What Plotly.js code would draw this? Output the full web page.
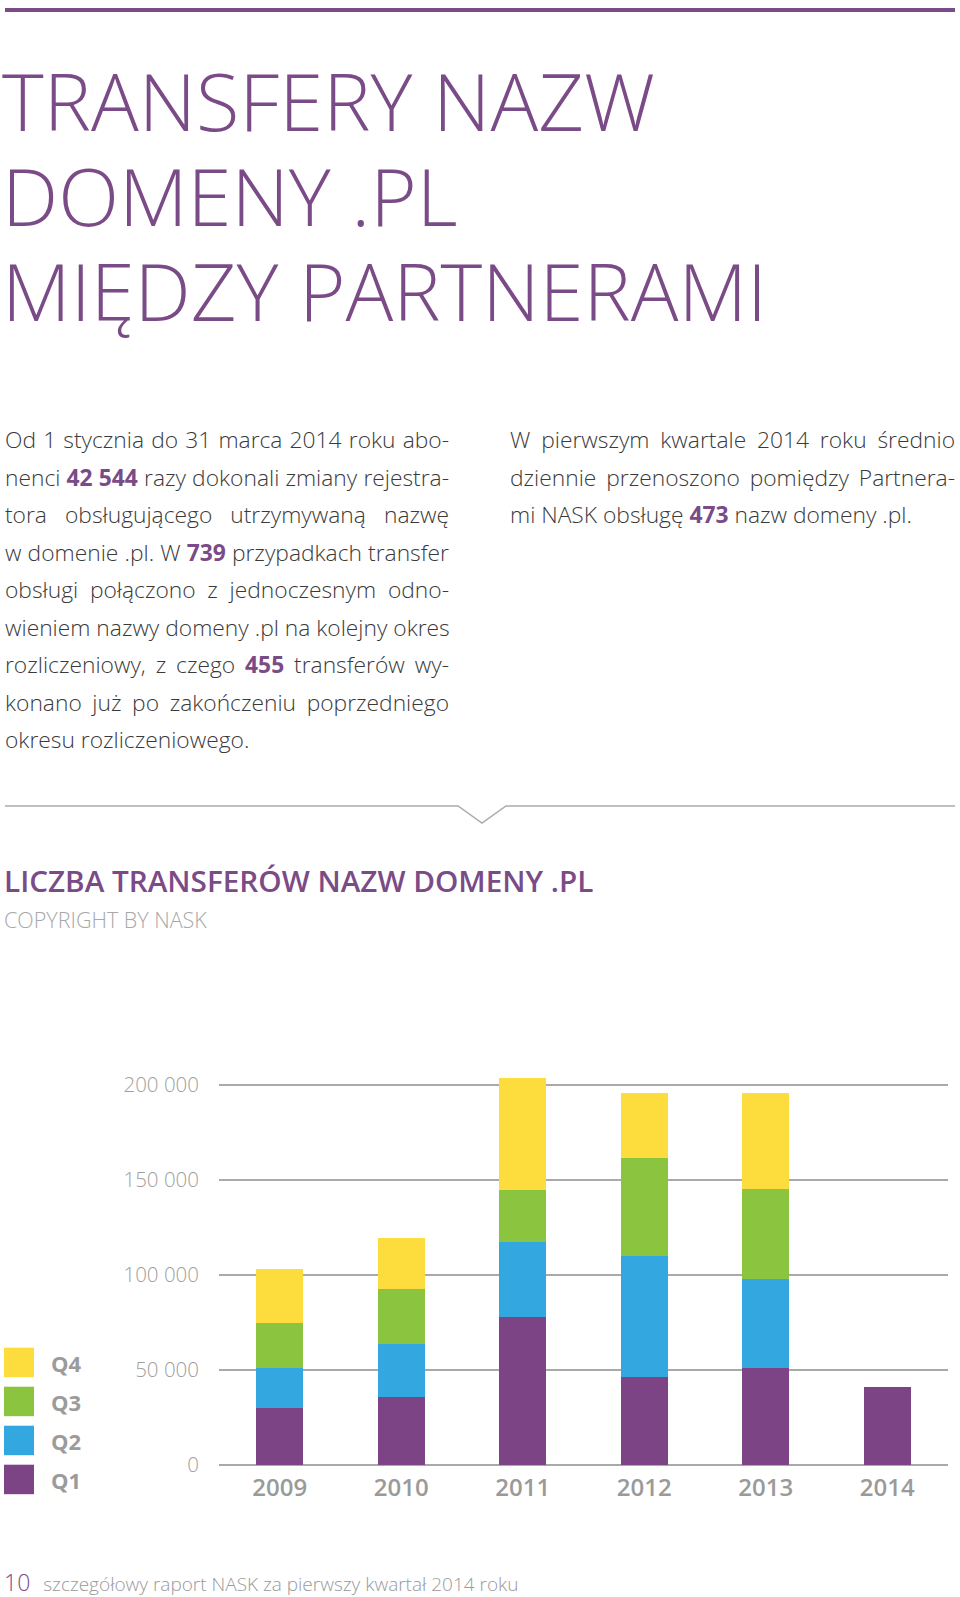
<!DOCTYPE html>
<html>
<head>
<meta charset="utf-8">
<script src="https://cdn.plot.ly/plotly-3.0.1.min.js"></script>
<style>
  body { margin: 0; background: #ffffff; }
  #page { position: relative; width: 960px; height: 1597px; overflow: hidden; font-family: "Open Sans", sans-serif; }
  .topbar { position: absolute; left: 5px; top: 8px; width: 950px; height: 4px; background: #7a4b87; }
  .bigtitle { position: absolute; left: 2px; top: 53px; font-size: 79.5px; line-height: 95px; font-weight: 300; color: #7a4b87; white-space: nowrap; }
  .col { position: absolute; top: 421px; font-size: 22.8px; line-height: 37.5px; font-weight: 300; color: #3a3a3a; }
  .col div { text-align: justify; text-align-last: justify; white-space: nowrap; }
  .col div.last { text-align: left; text-align-last: left; }
  .col b { color: #7a4b87; font-weight: 700; }
  #colL { left: 5px; width: 444px; }
  #colR { left: 510px; width: 445px; }
  #divider { position: absolute; left: 0; top: 790px; }
  .ctitle { position: absolute; left: 4px; top: 861px; font-size: 29.7px; line-height: 40px; font-weight: 600; color: #7a4b87; white-space: nowrap; }
  .copy { position: absolute; left: 4px; top: 905px; font-size: 21.5px; line-height: 30px; font-weight: 300; color: #a8a8a8; white-space: nowrap; }
  #chart { position: absolute; left: 0; top: 1000px; width: 960px; height: 540px; }
  .footer { position: absolute; left: 4px; top: 1567px; line-height: 30px; white-space: nowrap; }
  .footer .num { font-size: 23px; color: #7a4b87; font-weight: 300; }
  .footer .txt { font-size: 19px; color: #9a9a9a; font-weight: 300; margin-left: 13px; }
</style>
</head>
<body>
<div id="page">
  <div class="topbar"></div>
  <div class="bigtitle">TRANSFERY NAZW<br>DOMENY .PL<br>MIĘDZY PARTNERAMI</div>

  <div class="col" id="colL">
    <div>Od 1 stycznia do 31 marca 2014 roku abo-</div>
    <div>nenci <b>42 544</b> razy dokonali zmiany rejestra-</div>
    <div>tora obsługującego utrzymywaną nazwę</div>
    <div>w domenie .pl. W <b>739</b> przypadkach transfer</div>
    <div>obsługi połączono z jednoczesnym odno-</div>
    <div>wieniem nazwy domeny .pl na kolejny okres</div>
    <div>rozliczeniowy, z czego <b>455</b> transferów wy-</div>
    <div>konano już po zakończeniu poprzedniego</div>
    <div class="last">okresu rozliczeniowego.</div>
  </div>

  <div class="col" id="colR">
    <div>W pierwszym kwartale 2014 roku średnio</div>
    <div>dziennie przenoszono pomiędzy Partnera-</div>
    <div class="last">mi NASK obsługę <b>473</b> nazw domeny .pl.</div>
  </div>

  <svg id="divider" width="960" height="40">
    <polyline points="5,16 458,16 482,33 506,16 955,16" fill="none" stroke="#ababab" stroke-width="1.5"/>
  </svg>

  <div class="ctitle">LICZBA TRANSFERÓW NAZW DOMENY .PL</div>
  <div class="copy">COPYRIGHT BY NASK</div>

  <div id="chart"></div>

  <div class="footer"><span class="num">10</span><span class="txt">szczegółowy raport NASK za pierwszy kwartał 2014 roku</span></div>
</div>

<script>
// ---- data ----
const years = ['2009', '2010', '2011', '2012', '2013', '2014'];
const q1 = [30200, 35800, 77700, 46300, 50900, 41000];
const q2 = [20900, 27900, 39700, 63900, 47000, null];
const q3 = [23800, 29100, 27500, 51200, 47500, null];
const q4 = [28300, 26800, 58600, 34200, 50200, null];
const seriesNames = ['Q1', 'Q2', 'Q3', 'Q4'];
const seriesColors = ['#7d4485', '#33a8e0', '#8bc43f', '#fddc3e'];
const yTickVals = [0, 50000, 100000, 150000, 200000];

// ---- geometry (pixels inside the chart div) ----
const W = 960, H = 540;
const M = { l: 219, r: 12, t: 66, b: 75 };
const plotW = W - M.l - M.r, plotH = H - M.t - M.b;
const px2x = x => (x - M.l) / plotW;
const px2y = y => (H - M.b - y) / plotH;

const seriesData = [q1, q2, q3, q4];
const traces = seriesData.map((vals, i) => ({
  type: 'bar',
  name: seriesNames[i],
  x: years,
  y: vals,
  marker: { color: seriesColors[i], line: { width: 0 } },
  hoverinfo: 'skip'
}));

// custom legend (large squares), Q4 at top down to Q1
const shapes = [];
const annotations = [];
const legTop = 347.7, legStep = 39, legSize = 29.5, legX0 = 4, legX1 = 34, legLabelX = 49;
for (let k = 0; k < seriesNames.length; k++) {
  const idx = seriesNames.length - 1 - k;
  const yTop = legTop + k * legStep;
  shapes.push({
    type: 'rect', xref: 'paper', yref: 'paper',
    x0: px2x(legX0), x1: px2x(legX1),
    y0: px2y(yTop + legSize), y1: px2y(yTop),
    fillcolor: seriesColors[idx], line: { width: 0 }, layer: 'above'
  });
  annotations.push({
    xref: 'paper', yref: 'paper',
    x: px2x(legLabelX), y: px2y(yTop + legSize / 2 + 1),
    xanchor: 'left', yanchor: 'middle',
    text: seriesNames[idx], showarrow: false,
    font: { family: 'Open Sans', size: 22, weight: 700, color: '#9b9b9b' }
  });
}

const layout = {
  width: W, height: H,
  margin: M,
  paper_bgcolor: 'rgba(0,0,0,0)',
  plot_bgcolor: 'rgba(0,0,0,0)',
  barmode: 'stack',
  bargap: 0.61,
  separators: ', ',
  showlegend: false,
  font: { family: 'Open Sans', color: '#9b9b9b' },
  xaxis: {
    type: 'category',
    showgrid: false, showline: false, zeroline: false,
    ticks: '',
    ticklabelstandoff: 6,
    tickfont: { family: 'Open Sans', size: 24, weight: 600, color: '#9a9a9a' }
  },
  yaxis: {
    range: [0, 210000],
    tickvals: yTickVals,
    tickformat: ',',
    showgrid: true, gridcolor: '#a9a9a9', gridwidth: 1.3,
    zeroline: true, zerolinecolor: '#a9a9a9', zerolinewidth: 1.3,
    showline: false, ticks: '',
    ticklabelstandoff: 19,
    tickfont: { family: 'Open Sans', size: 20.5, weight: 300, color: '#a0a0a0' }
  },
  shapes: shapes,
  annotations: annotations
};

Plotly.newPlot('chart', traces, layout, { staticPlot: true, displayModeBar: false });
</script>
</body>
</html>
